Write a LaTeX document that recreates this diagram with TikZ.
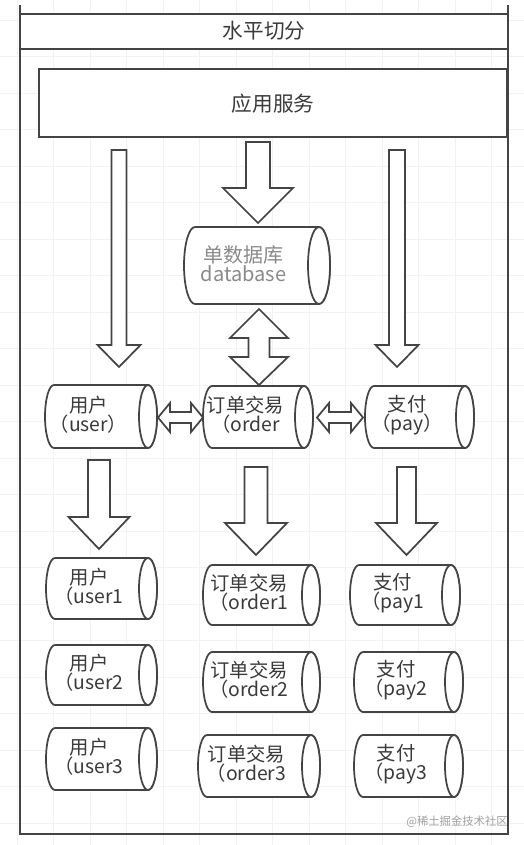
\documentclass[tikz,border=0pt]{standalone}
\usepackage{fontspec}
\newfontfamily\cjk{Noto Sans CJK SC}
\definecolor{lc}{HTML}{444444}
\definecolor{tc}{HTML}{3A3A3A}
\definecolor{dbt}{HTML}{8A8A8A}
\definecolor{gridc}{HTML}{F2F2F2}
\definecolor{wmc}{HTML}{A0A0A0}
\tikzset{
  ln/.style={draw=lc, line width=1.3pt},
  blk/.style={ln, fill=white, line join=miter},
  cylsty/.style={ln, fill=white},
  lbl/.style={text=tc, font=\cjk\fontsize{14.5pt}{14pt}\selectfont, align=center, inner sep=0pt},
  dblbl/.style={text=dbt, font=\cjk\fontsize{15pt}{13pt}\selectfont, align=center, inner sep=0pt},
  headlbl/.style={text=tc, font=\cjk\fontsize{15.5pt}{15.5pt}\selectfont, inner sep=0pt},
}
\newcommand\mycyl[8]{% #1 name, #2 x1, #3 y1, #4 x2, #5 y2, #6 rx, #7 style, #8 text
  \pgfmathsetmacro\cya{(#3+#5)/2}
  \pgfmathsetmacro\rya{(#5-#3)/2}
  \filldraw[cylsty] (#4-#6,#3) -- (#2+#6,#3)
     arc[start angle=270,end angle=90,x radius=#6,y radius=\rya]
     -- (#4-#6,#5)
     arc[start angle=90,end angle=-90,x radius=#6,y radius=\rya] -- cycle;
  \draw[cylsty] (#4-#6,\cya) ellipse[x radius=#6,y radius=\rya];
  \node[#7] (#1) at ({(#2+#4-#6)/2-8},\cya-2) {#8};
}
\newcommand\bigdown[6]{% xc, ytop, ybase, ytip, shaft hw, head hw
  \filldraw[blk] (#1-#5,#2) -- (#1+#5,#2) -- (#1+#5,#3) -- (#1+#6,#3) -- (#1,#4)
     -- (#1-#6,#3) -- (#1-#5,#3) -- cycle;
}
\newcommand\hdbl[3]{% x1, x2, yc
  \filldraw[blk] (#1,#3) -- (#1+12,#3-14.5) -- (#1+12,#3-5.5) -- (#2-12,#3-5.5)
     -- (#2-12,#3-14.5) -- (#2,#3) -- (#2-12,#3+14.5) -- (#2-12,#3+5.5)
     -- (#1+12,#3+5.5) -- (#1+12,#3+14.5) -- cycle;
}
\begin{document}
\begin{tikzpicture}[x=0.75pt,y=-0.75pt]
\useasboundingbox (0,0) rectangle (524,845);
\fill[white] (0,0) rectangle (524,845);
% faint grid
\foreach \i in {0,...,14} {
  \draw[gridc, line width=0.5pt] (17+36.5*\i,0) -- (17+36.5*\i,845);
}
\foreach \j in {0,...,23} {
  \draw[gridc, line width=0.5pt] (0,20+36.5*\j) -- (524,20+36.5*\j);
}
% swimlane frame
\fill[white] (20,14) rectangle (508,49);
\draw[ln] (20,5) -- (20,834) -- (508,834) -- (508,5);
\draw[ln] (20,14) -- (508,14);
\draw[ln] (20,49) -- (508,49);
\node[headlbl] (title) at (264,31) {水平切分};
% application box
\draw[ln, fill=white] (39,69) rectangle (507,137);
\node[headlbl] (app) at (273,104) {应用服务};
% block arrows
\bigdown{258}{142}{188}{223}{12}{35}
\bigdown{119}{150}{345}{367}{7.5}{21.5}
\bigdown{397}{150}{345}{367}{8}{21.5}
\bigdown{99}{460}{517}{549}{11}{30.5}
\bigdown{256}{467}{523}{555}{11.5}{31}
\bigdown{406.5}{467}{523}{555}{9.5}{30.5}
% vertical double arrow
\filldraw[blk] (259,309) -- (288,338) -- (269.5,338) -- (269.5,357) -- (288,357)
   -- (259,385) -- (230,357) -- (248.5,357) -- (248.5,338) -- (230,338) -- cycle;
% horizontal double arrows
\hdbl{158}{203}{417.5}
\hdbl{317}{363}{417.5}
% database
\mycyl{db}{184}{227}{330}{304}{11}{dblbl}{单数据库\\database}
% middle row
\mycyl{user}{45}{385}{157}{448}{9}{lbl}{用户\\（user）}
\mycyl{order}{203}{386}{313}{448}{9}{lbl}{订单交易\\（order}
\mycyl{pay}{365}{386}{474}{448}{9}{lbl}{支付\\（pay）}
% shards
\mycyl{user1}{46}{558}{157}{619}{9}{lbl}{用户\\（user1}
\mycyl{order1}{203}{565}{320}{625}{9}{lbl}{订单交易\\（order1}
\mycyl{pay1}{350}{565}{460}{625}{9}{lbl}{支付\\（pay1}
\mycyl{user2}{46}{645}{157}{705}{9}{lbl}{用户\\（user2}
\mycyl{order2}{203}{652}{320}{712}{9}{lbl}{订单交易\\（order2}
\mycyl{pay2}{354}{652}{463}{712}{9}{lbl}{支付\\（pay2}
\mycyl{user3}{46}{728}{157}{790}{9}{lbl}{用户\\（user3}
\mycyl{order3}{198}{735}{320}{797}{9}{lbl}{订单交易\\（order3}
\mycyl{pay3}{354}{735}{463}{797}{9}{lbl}{支付\\（pay3}
% watermark
\node[text=wmc, font=\cjk\fontsize{8.5pt}{8.5pt}\selectfont, inner sep=0pt] (wm) at (457,822) {@稀土掘金技术社区};
\end{tikzpicture}
\end{document}
